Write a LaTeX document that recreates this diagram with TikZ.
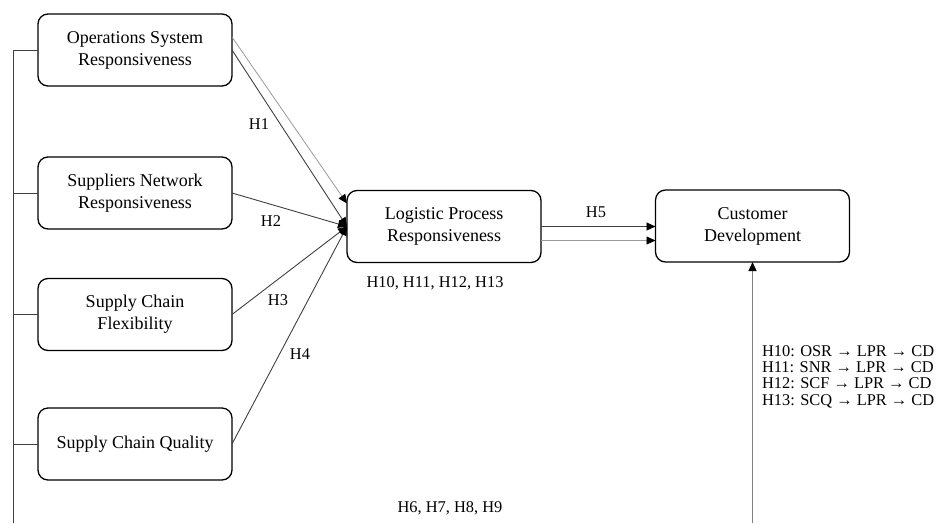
\documentclass[tikz,border=0pt]{standalone}
\usepackage{fontspec}
\setmainfont{Liberation Serif}
\usetikzlibrary{arrows.meta,positioning}

\begin{document}
\begin{tikzpicture}[x=1pt,y=-1pt,
  every node/.style={outer sep=0pt},
  box/.style={draw,line width=1.3pt,rounded corners=10pt,minimum width=194pt,
    minimum height=72pt,align=center,inner sep=0pt,
    font=\fontsize{18}{22}\selectfont},
  lbl/.style={inner sep=0pt,font=\fontsize{16.4}{16.4}\selectfont},
  tip/.style={-{Triangle[length=9pt,width=8pt,color=black]}},
  dark/.style={draw=black!75,line width=0.9pt},
  light/.style={draw=black!40,line width=0.8pt}]
\useasboundingbox (0,0) rectangle (936,523);
\node (OSR) [box] at (135,50) {Operations System\\Responsiveness};
\node (SNR) [box] at (135,193) {Suppliers Network\\Responsiveness};
\node (SCF) [box] at (135,314.5) {Supply Chain\\Flexibility};
\node (SCQ) [box] at (135,444) {Supply Chain Quality};
\node (LPR) [box] at (444,226.5) {Logistic Process\\Responsiveness};
\node (CD) [box] at (752.5,226) {Customer\\Development};
\coordinate (bl) at (13,523);
\draw [dark] (OSR.west) -| (bl);
\foreach \n in {SNR,SCF,SCQ}
  \draw [dark] (\n.west) -- (\n.west -| bl);
\draw [light,tip] ([yshift=13pt]OSR.east) -- ([yshift=23pt]LPR.west);
\foreach \n in {OSR,SNR,SCF,SCQ}
  \draw [dark,tip] (\n.east) -- (LPR.west);
\coordinate (h5b) at ([yshift=-14pt]LPR.east);
\draw [dark,tip] (LPR.east) -- (LPR.east -| CD.west);
\draw [light,tip] (h5b) -- (h5b -| CD.west);
\coordinate (br) at (752.5,523);
\draw [draw=black!50,line width=1.2pt,tip] (br) -- (CD.south);
\node (h1) [lbl] at (259,124) {H1};
\node (h2) [lbl] at (271,221) {H2};
\node (h3) [lbl] at (278,300) {H3};
\node (h4) [lbl] at (300,354) {H4};
\node (h5) [lbl] at (596,212) {H5};
\node (hmed) [lbl] at (435,283) {H10, H11, H12, H13};
\node (hdir) [lbl] at (450,508) {H6, H7, H8, H9};
\node (paths) [lbl,anchor=west,align=left] at (762,376.5)
  {H10: OSR → LPR → CD\\H11: SNR → LPR → CD\\H12: SCF → LPR → CD\\H13: SCQ → LPR → CD};
\end{tikzpicture}
\end{document}
